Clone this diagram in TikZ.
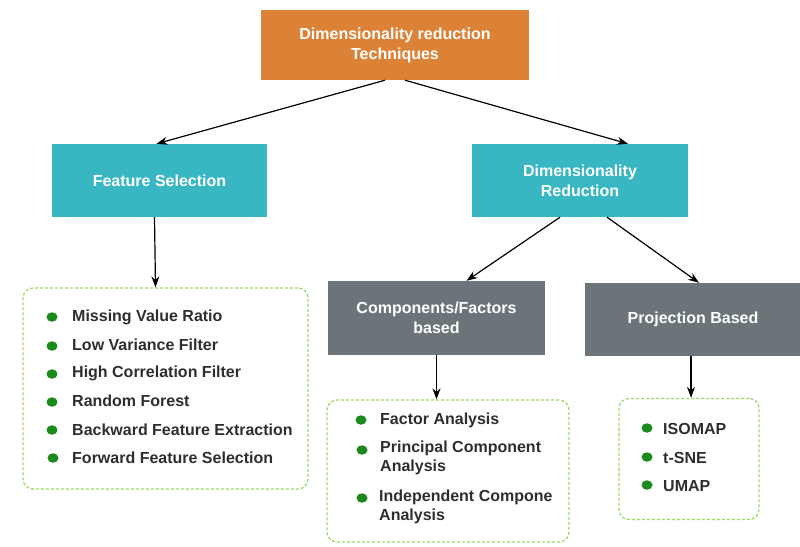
\documentclass[tikz,border=0pt]{standalone}
\usepackage{fontspec}
\setmainfont{Liberation Sans}
\usetikzlibrary{arrows.meta,shapes.geometric}
\definecolor{orangebox}{HTML}{DC8237}
\definecolor{tealbox}{HTML}{38B6C2}
\definecolor{graybox}{HTML}{6B7579}
\definecolor{dotgreen}{HTML}{1D8A1D}
\definecolor{dashgreen}{HTML}{9CD862}
\definecolor{itemtext}{HTML}{2E2E2E}
\begin{document}
\begin{tikzpicture}[x=1pt,y=-1pt,
		box/.style={rectangle,text=white,font=\bfseries\fontsize{16}{20}\selectfont,align=center,inner sep=0pt},
		listbox/.style={rectangle,draw=dashgreen,line width=1.3pt,dash pattern=on 3pt off 2pt,rounded corners=10pt,inner sep=0pt},
		item/.style={anchor=west,text=itemtext,font=\bfseries\fontsize{16}{19}\selectfont,align=left,inner sep=0pt},
		bullet/.style={ellipse,fill=dotgreen,minimum width=11pt,minimum height=9.5pt,inner sep=0pt},
		link/.style={-{Stealth[length=11pt,width=8pt]},line width=1.2pt}]
		\useasboundingbox (0,0) rectangle (800,546);
		\node[box,fill=orangebox,minimum width=268pt,minimum height=70pt] (tech) at (395,45) {Dimensionality reduction\\Techniques};
		\node[box,fill=tealbox,minimum width=215pt,minimum height=73pt] (fs) at (159.5,180.5) {Feature Selection};
		\node[box,fill=tealbox,minimum width=216pt,minimum height=73pt] (dr) at (580,180.5) {Dimensionality\\Reduction};
		\node[box,fill=graybox,minimum width=217pt,minimum height=74pt] (comp) at (436.5,318) {Components/Factors\\based};
		\node[box,fill=graybox,minimum width=216pt,minimum height=73pt] (proj) at (693,319.5) {Projection Based};
		\node[listbox,minimum width=285pt,minimum height=201pt] (fslist) at (165.5,388.5) {};
		\node[listbox,minimum width=242pt,minimum height=142pt] (complist) at (448,471) {};
		\node[listbox,minimum width=140pt,minimum height=121pt] (projlist) at (689,459) {};
		\draw[link] ([xshift=-10pt]tech.south) -- ([xshift=-3pt]fs.north);
		\draw[link] ([xshift=10pt]tech.south) -- ([xshift=48pt]dr.north);
		\draw[link] ([xshift=-5pt]fs.south) -- ([xshift=-10pt]fslist.north);
		\draw[link] ([xshift=-20pt]dr.south) -- ([xshift=30pt]comp.north);
		\draw[link] ([xshift=27pt]dr.south) -- ([xshift=6pt]proj.north);
		\draw[link] (comp.south) -- ([xshift=-11.5pt]complist.north);
		\draw[link] ([xshift=-2pt]proj.south) -- ([xshift=2pt]projlist.north);
		\node[bullet] (b1) at (52,317) {};
		\node[item] (i1) at (72,317) {Missing Value Ratio};
		\node[bullet] (b2) at (52,346) {};
		\node[item] (i2) at (72,345) {Low Variance Filter};
		\node[bullet] (b3) at (52,374) {};
		\node[item] (i3) at (72,373) {High Correlation Filter};
		\node[bullet] (b4) at (52,402) {};
		\node[item] (i4) at (72,401) {Random Forest};
		\node[bullet] (b5) at (52,430) {};
		\node[item] (i5) at (72,430) {Backward Feature Extraction};
		\node[bullet] (b6) at (53,458) {};
		\node[item] (i6) at (72,458) {Forward Feature Selection};
		\node[bullet] (c1) at (361,420) {};
		\node[item] (f1) at (380,420) {Factor Analysis};
		\node[bullet] (c2) at (362,450) {};
		\node[item] (f2) at (380,457.5) {Principal Component\\Analysis};
		\node[bullet] (c3) at (362,498) {};
		\node[item] (f3) at (379,506.5) {Independent Compone\\Analysis};
		\node[bullet] (p1) at (647,428) {};
		\node[item] (j1) at (663,429) {ISOMAP};
		\node[bullet] (p2) at (647,457) {};
		\node[item] (j2) at (663,458) {t-SNE};
		\node[bullet] (p3) at (647,485) {};
		\node[item] (j3) at (663,486) {UMAP};
\end{tikzpicture}
\end{document}
